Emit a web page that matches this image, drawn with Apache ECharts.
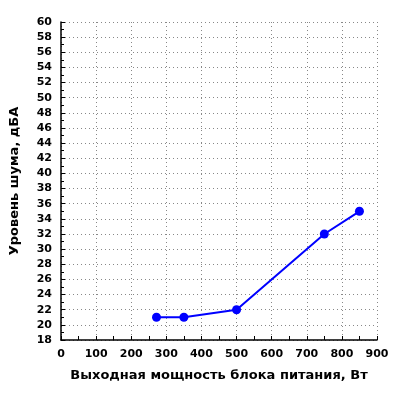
<!DOCTYPE html>
<html><head><meta charset="utf-8">
<script src="https://cdn.jsdelivr.net/npm/echarts@6/dist/echarts.min.js"></script>
<style>html,body{margin:0;padding:0;background:#fff}#c{width:400px;height:400px}</style>
</head><body><div id="c"></div>
<script>
const powerW = [272, 350, 500, 750, 850];
const noiseDBA = [21, 21, 22, 32, 35];
const xTitle = 'Выходная мощность блока питания, Вт';
const yTitle = 'Уровень шума, дБА';

const font = 'DejaVu Sans';
const chart = echarts.init(document.getElementById('c'), null, {renderer: 'canvas'});
chart.setOption({
  animation: false,
  backgroundColor: '#fff',
  grid: {left: 58, right: 23, top: 22, bottom: 60},
  xAxis: {
    type: 'value', min: 0, max: 900, interval: 100,
    name: xTitle, nameLocation: 'middle', nameGap: 29,
    nameTextStyle: {fontFamily: font, fontWeight: 'bold', fontSize: 13, color: '#000'},
    axisLine: {show: true, lineStyle: {color: '#000', width: 1.5}},
    axisTick: {show: true, inside: true, length: 4, lineStyle: {color: '#000'}},
    minorTick: {show: true, splitNumber: 2, length: 4, lineStyle: {color: '#000'}},
    axisLabel: {fontFamily: font, fontWeight: 'bold', fontSize: 11, color: '#000', margin: 9},
    splitLine: {show: true, lineStyle: {color: '#888', type: [1, 3], width: 1}}
  },
  yAxis: {
    type: 'value', min: 18, max: 60, interval: 2,
    name: yTitle, nameLocation: 'middle', nameGap: 40, nameRotate: 90,
    nameTextStyle: {fontFamily: font, fontWeight: 'bold', fontSize: 13, color: '#000'},
    axisLine: {show: true, lineStyle: {color: '#000', width: 1.5}},
    axisTick: {show: true, inside: true, length: 4, lineStyle: {color: '#000'}},
    minorTick: {show: true, splitNumber: 2, length: 3, lineStyle: {color: '#000'}},
    axisLabel: {fontFamily: font, fontWeight: 'bold', fontSize: 11, color: '#000', margin: 9},
    splitLine: {show: true, lineStyle: {color: '#888', type: [1, 3], width: 1}}
  },
  series: [{
    type: 'line',
    data: powerW.map((x, i) => [x, noiseDBA[i]]),
    color: '#0000ff',
    lineStyle: {color: '#0000ff', width: 2},
    symbol: 'circle', symbolSize: 9,
    itemStyle: {color: '#0000ff'}
  }]
});
</script></body></html>
